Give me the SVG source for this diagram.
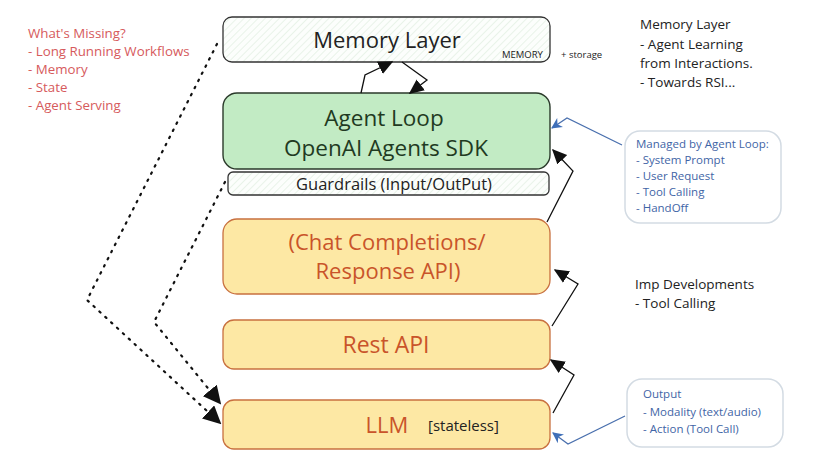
<svg xmlns="http://www.w3.org/2000/svg" width="816" height="473" viewBox="0 0 816 473">
<defs>
  <pattern id="hatch" patternUnits="userSpaceOnUse" width="5" height="5" patternTransform="rotate(45)">
    <rect width="5" height="5" fill="#fcfefc"/>
    <line x1="0" y1="0" x2="0" y2="5" stroke="#dcecdc" stroke-width="1.2"/>
  </pattern>
  <marker id="ah" viewBox="0 0 10 10" refX="9" refY="5" markerWidth="15" markerHeight="15" markerUnits="userSpaceOnUse" orient="auto">
    <path d="M0,0.5 L10,5 L0,9.5 z" fill="#111"/>
  </marker>
  <marker id="ahd" viewBox="0 0 10 10" refX="9" refY="5" markerWidth="18" markerHeight="18" markerUnits="userSpaceOnUse" orient="auto">
    <path d="M0,0 L10,5 L0,10 z" fill="#111"/>
  </marker>
  <marker id="ahb" viewBox="0 0 10 10" refX="9" refY="5" markerWidth="11" markerHeight="11" markerUnits="userSpaceOnUse" orient="auto">
    <path d="M0,0 L10,5 L0,10 L3,5 z" fill="#3f6fb8"/>
  </marker>
</defs>
<style>
  text { font-family: "Open Sans", "Noto Sans", "DejaVu Sans", sans-serif; }
  .hatchbox { fill: url(#hatch); stroke: #333; stroke-width: 1.3; }
  .green { fill: #c2ebc4; stroke: #2b3a2b; stroke-width: 1.4; }
  .yellow { fill: #fde8a4; stroke: #c8703f; stroke-width: 1.3; }
  .note { fill: #ffffff; stroke: #d3dbe3; stroke-width: 1.5; }
  .big { text-anchor: middle; }
  .dk { fill: #222; }
  .gt { fill: #1f3a22; }
  .rt { fill: #c9542a; }
  .red { fill: #d65a5c; font-size: 13.3px; }
  .side { fill: #222; font-size: 13.5px; }
  .blue { fill: #3f65a6; font-size: 11.5px; }
  .solid { fill: none; stroke: #111; stroke-width: 1.3; marker-end: url(#ah); }
  .dot { fill: none; stroke: #111; stroke-width: 2.2; stroke-dasharray: 1.5 6.5; stroke-linecap: round; marker-end: url(#ahd); }
  .bl { fill: none; stroke: #4a70ae; stroke-width: 1.3; marker-end: url(#ahb); }
</style>
<rect width="816" height="473" fill="#ffffff"/>

<g id="missing">
  <text class="red" x="28" y="38">What's Missing?</text>
  <text class="red" x="28" y="56">- Long Running Workflows</text>
  <text class="red" x="28" y="74">- Memory</text>
  <text class="red" x="28" y="92">- State</text>
  <text class="red" x="28" y="110">- Agent Serving</text>
</g>

<g id="memory-note">
  <text class="side" x="640" y="29">Memory Layer</text>
  <text class="side" x="640" y="49">- Agent Learning</text>
  <text class="side" x="640" y="68">from Interactions.</text>
  <text class="side" x="640" y="87">- Towards RSI...</text>
</g>

<g id="memory-layer">
  <rect class="hatchbox" x="223" y="17" width="327" height="45" rx="9"/>
  <text class="big dk" x="387" y="47.5" font-size="22">Memory Layer</text>
  <text class="dk" x="502" y="58" font-size="9.5">MEMORY</text>
  <text class="dk" x="561" y="58" font-size="9.5">+ storage</text>
</g>

<g id="agent-loop">
  <rect class="green" x="223" y="93" width="327" height="76" rx="14"/>
  <text class="big gt" x="384" y="126" font-size="22.5">Agent Loop</text>
  <text class="big gt" x="386" y="156" font-size="22.5">OpenAI Agents SDK</text>
</g>

<g id="guardrails">
  <rect class="hatchbox" x="228" y="172" width="321" height="23" rx="5"/>
  <text class="dk" x="394" y="190" font-size="16.5" text-anchor="middle">Guardrails (Input/OutPut)</text>
</g>

<g id="chat-completions">
  <rect class="yellow" x="223" y="219" width="327" height="75" rx="14"/>
  <text class="big rt" x="387" y="250" font-size="22">(Chat Completions/</text>
  <text class="big rt" x="388" y="279" font-size="22">Response API)</text>
</g>

<g id="rest-api">
  <rect class="yellow" x="223" y="320" width="327" height="49" rx="11"/>
  <text class="big rt" x="386" y="353" font-size="23">Rest API</text>
</g>

<g id="llm">
  <rect class="yellow" x="223" y="400" width="327" height="49" rx="11"/>
  <text class="big rt" x="387" y="433" font-size="22">LLM</text>
  <text class="dk" x="428" y="431" font-size="15">[stateless]</text>
</g>

<g id="managed-note">
  <rect class="note" x="625" y="131" width="156" height="92" rx="15"/>
  <text class="blue" x="636" y="148">Managed by Agent Loop:</text>
  <text class="blue" x="636" y="164">- System Prompt</text>
  <text class="blue" x="636" y="180">- User Request</text>
  <text class="blue" x="636" y="196">- Tool Calling</text>
  <text class="blue" x="636" y="212">- HandOff</text>
</g>

<g id="imp-note">
  <text class="side" x="635" y="289">Imp Developments</text>
  <text class="side" x="635" y="308">- Tool Calling</text>
</g>

<g id="output-note">
  <rect class="note" x="627" y="379" width="156" height="68" rx="15"/>
  <text class="blue" x="643" y="398" font-size="12">Output</text>
  <text class="blue" x="643" y="416" font-size="12">- Modality (text/audio)</text>
  <text class="blue" x="643" y="433" font-size="12">- Action (Tool Call)</text>
</g>

<g id="connectors">
  <polyline class="solid" points="361,93 365,75 392,62"/>
  <polyline class="solid" points="402,62 427,80 410,93"/>
  <polyline class="solid" points="547,222 573,171 553,150"/>
  <polyline class="solid" points="552,326 578,284 555,270"/>
  <polyline class="solid" points="553,413 574,375 551,360"/>
  <polyline class="bl" points="622,145 567,118 552,128"/>
  <polyline class="bl" points="625,416 568,444 553,433"/>
  <polyline class="dot" points="217,44 87,300 220,423"/>
  <polyline class="dot" points="225,182 154,322 220,403"/>
</g>
</svg>
